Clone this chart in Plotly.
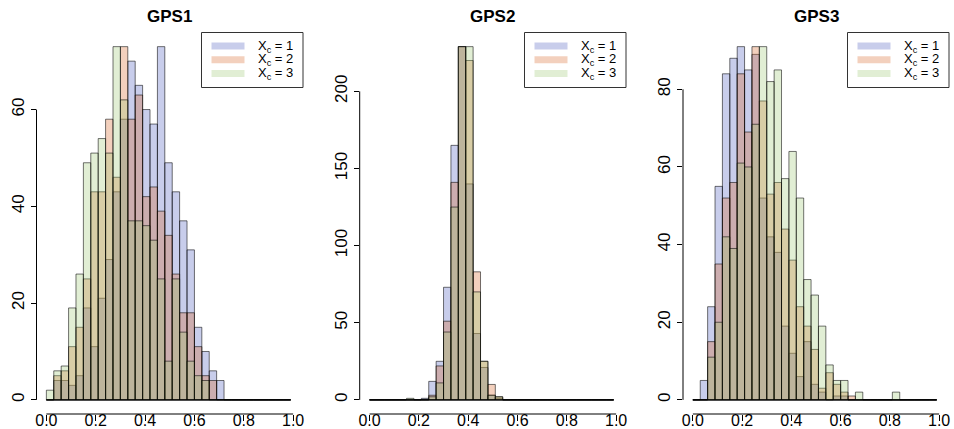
import plotly.graph_objects as go

W, H = 954, 429

# ---------------- data ----------------
bin_width = 0.03
n_bins = 33
bin_edges = [round(i * bin_width, 2) for i in range(n_bins + 1)]
bin_centers = [round((a + b) / 2, 3) for a, b in zip(bin_edges[:-1], bin_edges[1:])]

panel_titles = ["GPS1", "GPS2", "GPS3"]
series_labels = ["X<sub>c</sub> = 1", "X<sub>c</sub> = 2", "X<sub>c</sub> = 3"]
x_tick_vals = [0.0, 0.2, 0.4, 0.6, 0.8, 1.0]
x_tick_text = ["0.0", "0.2", "0.4", "0.6", "0.8", "1.0"]
y_ticks_gps1 = [0, 20, 40, 60]
y_ticks_gps2 = [0, 50, 100, 150, 200]
y_ticks_gps3 = [0, 20, 40, 60, 80]

gps1_xc1 = [0, 4, 4, 3, 5, 19, 11, 21, 29, 43, 58, 70, 65, 60, 57, 73, 49, 43, 37, 31, 15, 10, 6, 4,
            0, 0, 0, 0, 0, 0, 0, 0, 0]
gps1_xc2 = [0, 5, 6, 11, 15, 25, 43, 43, 58, 46, 73, 58, 63, 42, 44, 39, 34, 26, 18, 18, 11, 5, 4, 0,
            0, 0, 0, 0, 0, 0, 0, 0, 0]
gps1_xc3 = [2, 6, 7, 19, 26, 49, 51, 54, 51, 73, 62, 37, 37, 36, 33, 25, 8, 25, 14, 8, 5, 4, 0, 0,
            0, 0, 0, 0, 0, 0, 0, 0, 0]

gps2_xc1 = [0, 0, 0, 0, 0, 0, 0, 1, 12, 25, 73, 165, 229, 140, 43, 21, 3, 1,
            0, 0, 0, 0, 0, 0, 0, 0, 0, 0, 0, 0, 0, 0, 0]
gps2_xc2 = [0, 0, 0, 0, 0, 0, 0, 0, 3, 22, 51, 141, 229, 220, 83, 25, 10, 2,
            0, 0, 0, 0, 0, 0, 0, 0, 0, 0, 0, 0, 0, 0, 0]
gps2_xc3 = [0, 0, 0, 0, 0, 1, 0, 0, 2, 11, 44, 125, 229, 229, 70, 25, 3, 2,
            0, 0, 0, 0, 0, 0, 0, 0, 0, 0, 0, 0, 0, 0, 0]

gps3_xc1 = [0, 5, 24, 55, 84, 88, 91, 85, 89, 52, 42, 38, 19, 12, 6, 15, 4, 2, 0, 1, 1, 0,
            0, 0, 0, 0, 0, 0, 0, 0, 0, 0, 0]
gps3_xc2 = [0, 0, 15, 35, 52, 56, 84, 69, 91, 77, 53, 56, 44, 36, 24, 19, 13, 3, 7, 4, 2, 1,
            0, 0, 0, 0, 0, 0, 0, 0, 0, 0, 0]
gps3_xc3 = [0, 0, 11, 20, 42, 39, 61, 60, 71, 91, 82, 85, 57, 64, 52, 31, 27, 19, 9, 5, 5, 0,
            2, 0, 0, 0, 0, 2, 0, 0, 0, 0, 0]

panels = [
    (panel_titles[0], [gps1_xc1, gps1_xc2, gps1_xc3], y_ticks_gps1),
    (panel_titles[1], [gps2_xc1, gps2_xc2, gps2_xc3], y_ticks_gps2),
    (panel_titles[2], [gps3_xc1, gps3_xc2, gps3_xc3], y_ticks_gps3),
]

# ---------------- style ----------------
fills = ["rgba(72,88,188,0.3)", "rgba(215,98,38,0.3)", "rgba(155,198,112,0.3)"]
edge = "rgba(0,0,0,0.55)"
FONT = "Liberation Sans, Arial, Helvetica, sans-serif"

x_dom_px = [(36.5, 303.0), (359.7, 626.0), (683.0, 949.0)]
y_top_px, y_bot_px = 32.5, 414.0


def px(xp):
    return xp / W


def py(yp):
    return 1 - yp / H


fig = go.Figure()
shapes, annotations = [], []
layout = dict(
    width=W, height=H, margin=dict(l=0, r=0, t=0, b=0, autoexpand=False),
    paper_bgcolor="white", plot_bgcolor="white",
    barmode="overlay", showlegend=False,
    font=dict(family=FONT, color="black"),
)

for k, (title, series, yticks) in enumerate(panels):
    sfx = "" if k == 0 else str(k + 1)
    xa, ya = "x" + sfx, "y" + sfx
    for vals, fill in zip(series, fills):
        fig.add_trace(go.Bar(
            x=bin_centers, y=vals, width=bin_width, xaxis=xa, yaxis=ya,
            marker=dict(color=fill, line=dict(color=edge, width=1)),
            showlegend=False, hoverinfo="skip",
        ))
    ymax = max(max(s) for s in series)
    x0p, x1p = x_dom_px[k]
    layout["xaxis" + sfx] = dict(
        domain=[px(x0p), px(x1p)], range=[-0.04, 1.04], anchor=ya,
        tickvals=x_tick_vals, ticktext=x_tick_text, ticks="outside", ticklen=6,
        tickwidth=1, tickcolor="black", showgrid=False, zeroline=False, showline=False,
        tickfont=dict(size=16, family=FONT, color="black"), ticklabelstandoff=-14,
    )
    layout["yaxis" + sfx] = dict(
        domain=[py(y_bot_px), py(y_top_px)], range=[-0.04 * ymax, 1.04 * ymax], anchor=xa,
        tickvals=yticks, ticktext=[str(t) for t in yticks], ticks="outside", ticklen=5,
        tickwidth=1, tickcolor="black", showgrid=False, zeroline=False, showline=False,
        tickangle=-90, tickfont=dict(size=17, family=FONT, color="black"),
    )
    # axis lines (R style: from first to last tick)
    shapes.append(dict(type="line", xref=xa, yref=ya + " domain", x0=x_tick_vals[0], x1=x_tick_vals[-1],
                       y0=0, y1=0, line=dict(color="black", width=1)))
    shapes.append(dict(type="line", xref=xa + " domain", yref=ya, x0=0, x1=0,
                       y0=yticks[0], y1=yticks[-1], line=dict(color="black", width=1)))
    # baseline of histogram (zero-height bins)
    shapes.append(dict(type="line", xref=xa, yref=ya, x0=bin_edges[0], x1=bin_edges[-1],
                       y0=0, y1=0, line=dict(color="rgba(0,0,0,0.85)", width=1.2), layer="above"))
    # title
    annotations.append(dict(text="<b>" + title + "</b>", xref="paper", yref="paper",
                            x=px((x0p + x1p) / 2), y=py(17), xanchor="center", yanchor="middle",
                            showarrow=False, font=dict(size=17, family=FONT, color="black")))
    # legend box (top-right of plot region)
    bx1 = x1p
    bx0 = bx1 - 101.5
    by0 = y_top_px
    by1 = by0 + 55
    shapes.append(dict(type="rect", xref="paper", yref="paper", x0=px(bx0), x1=px(bx1),
                       y0=py(by1), y1=py(by0), line=dict(color="#333333", width=1),
                       fillcolor="white", layer="above"))
    for j, (lab, fill) in enumerate(zip(series_labels, fills)):
        yc = by0 + 13.5 + 13.8 * j
        shapes.append(dict(type="line", xref="paper", yref="paper", x0=px(bx0 + 10), x1=px(bx0 + 43),
                           y0=py(yc), y1=py(yc), line=dict(color=fill, width=7), layer="above"))
        annotations.append(dict(text=lab, xref="paper", yref="paper", x=px(bx0 + 54), y=py(yc),
                                xanchor="left", yanchor="middle", showarrow=False, height=13,
                                font=dict(size=13, family=FONT, color="black")))

layout["shapes"] = shapes
layout["annotations"] = annotations
fig.update_layout(**layout)
fig.write_html("out.html", config={"displayModeBar": False},
               post_script="document.body.style.margin='0';document.body.style.overflow='hidden';")
